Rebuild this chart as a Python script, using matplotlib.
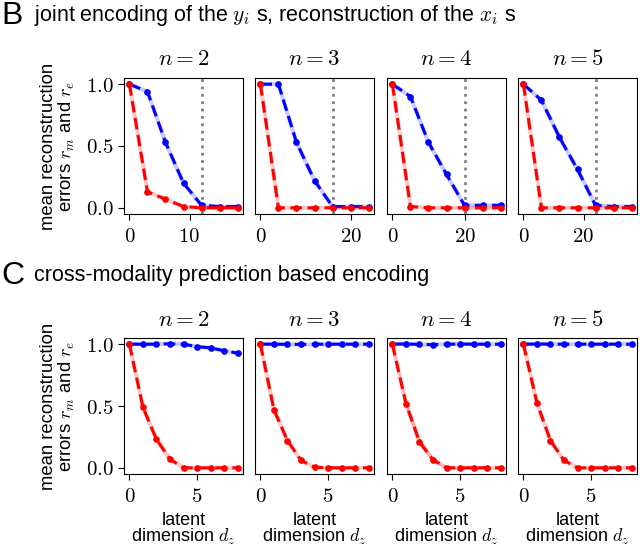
import numpy as np
import matplotlib.pyplot as plt

plt.rcParams['font.family'] = ['Liberation Sans', 'DejaVu Sans']
plt.rcParams['mathtext.fontset'] = 'cm'

ns = [2, 3, 4, 5]

# B: joint encoding, latent dims per n
top_dz = [[0, 3, 6, 9, 12, 15, 18],
          [0, 4, 8, 12, 16, 20, 24],
          [0, 5, 10, 15, 20, 25, 30],
          [0, 6, 12, 18, 24, 30, 36]]
top_blue = [[1.0, 0.94, 0.53, 0.20, 0.02, 0.01, 0.01],
            [1.0, 1.0, 0.53, 0.22, 0.01, 0.01, 0.01],
            [1.0, 0.90, 0.53, 0.27, 0.02, 0.02, 0.02],
            [1.0, 0.87, 0.57, 0.31, 0.02, 0.01, 0.01]]
top_red = [[1.0, 0.13, 0.07, 0.01, 0.0, 0.0, 0.0],
           [1.0, 0.0, 0.0, 0.0, 0.0, 0.0, 0.0],
           [1.0, 0.01, 0.0, 0.0, 0.0, 0.0, 0.0],
           [1.0, 0.0, 0.0, 0.0, 0.0, 0.0, 0.0]]
top_vline = [12, 16, 20, 24]
top_xticks = [[0, 10], [0, 20], [0, 20], [0, 20]]

# C: cross-modality prediction
bot_dz = [0, 1, 2, 3, 4, 5, 6, 7, 8]
bot_blue = [[1.0, 1.0, 1.0, 1.003, 1.0, 0.98, 0.97, 0.947, 0.928],
            [1.0, 1.0, 0.999, 0.998, 0.999, 1.0, 1.0, 1.0, 1.0],
            [1.0, 1.002, 0.998, 0.996, 1.0, 1.001, 1.0, 1.0, 1.0],
            [1.0, 1.001, 1.0, 1.0, 1.0, 1.0, 1.0, 1.0, 1.0]]
bot_red = [[1.0, 0.49, 0.23, 0.07, 0.0, 0.0, 0.0, 0.0, 0.0],
           [1.0, 0.47, 0.22, 0.06, 0.005, 0.0, 0.0, 0.0, 0.0],
           [1.0, 0.52, 0.21, 0.065, 0.0, 0.0, 0.0, 0.0, 0.0],
           [1.0, 0.525, 0.22, 0.06, 0.0, 0.0, 0.0, 0.0, 0.0]]
# spread of the red curve for n=4 (only visible one)
red4_err = [0.0, 0.04, 0.035, 0.015, 0.003, 0.0, 0.0, 0.0, 0.0]

fig = plt.figure(figsize=(6.4, 5.46), dpi=100)
W, H = 640, 546
lefts = [124, 255, 387, 518]
width = 119


def add_ax(x, y_top, h=136):
    return fig.add_axes([x / W, 1 - (y_top + h) / H, width / W, h / H])


def draw(ax, x, blue, red, red_err=None):
    x = np.asarray(x)
    for y, c in [(blue, 'blue'), (red, 'red')]:
        y = np.asarray(y)
        if c == 'red' and red_err is not None:
            e = np.asarray(red_err)
            ax.fill_between(x, y - e, y + e, color=c, alpha=0.18, lw=0)
        ax.plot(x, y, color=c, lw=3, alpha=0.2, solid_capstyle='round')
        ax.plot(x, y, color=c, lw=2.2, ls='--', dashes=(3.8, 1.8), marker='o', ms=3.8)


def style(ax, i, xticks):
    ax.set_ylim(-0.05, 1.05)
    ax.set_xticks(xticks)
    ax.set_xticklabels(['$%d$' % t for t in xticks], fontsize=15)
    ax.tick_params(axis='x', length=4.5, pad=5)
    if i == 0:
        ax.set_yticks([0, 0.5, 1.0])
        ax.set_yticklabels(['$0.0$', '$0.5$', '$1.0$'], fontsize=15)
        ax.tick_params(axis='y', length=4.5, pad=3)
        ax.set_ylabel('mean reconstruction\nerrors $r_m$ and $r_e$', fontsize=13.3,
                      linespacing=0.95, labelpad=6.5)
    else:
        ax.set_yticks([])
    ax.set_title('$n=%d$' % ns[i], fontsize=16.5, pad=9)


for i in range(4):
    ax = add_ax(lefts[i], 78)
    ax.axvline(top_vline[i], color='grey', ls=':', lw=2)
    draw(ax, top_dz[i], top_blue[i], top_red[i])
    style(ax, i, top_xticks[i])

    ax = add_ax(lefts[i], 338)
    draw(ax, bot_dz, bot_blue[i], bot_red[i], red4_err if ns[i] == 4 else None)
    style(ax, i, [0, 5])
    ax.set_xlabel('latent\ndimension $d_z$', fontsize=13, linespacing=0.88, labelpad=4)

fig.text(1 / W, 1 - 16 / H, 'B', fontsize=23, va='center')
fig.text(34 / W, 1 - 16 / H, 'joint encoding of the $y_i$ s, reconstruction of the $x_i$ s',
         fontsize=15.5, va='center')
fig.text(1 / W, 1 - 276 / H, 'C', fontsize=23, va='center')
fig.text(34 / W, 1 - 276 / H, 'cross-modality prediction based encoding',
         fontsize=15.5, va='center')

fig.savefig('out.png', dpi=100)
